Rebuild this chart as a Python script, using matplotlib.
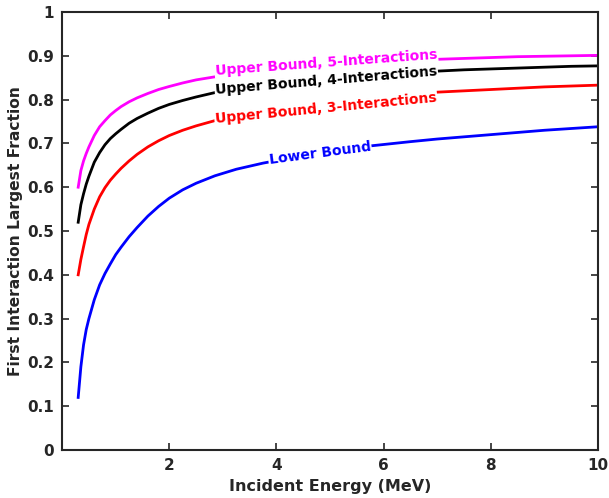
import matplotlib
matplotlib.use("Agg")
import matplotlib.pyplot as plt

energy = [0.3, 0.35, 0.4, 0.45, 0.5, 0.6, 0.7, 0.8, 0.9, 1.0, 1.1, 1.25, 1.4, 1.6, 1.8, 2.0,
          2.25, 2.5, 2.85, 3.25, 3.75, 4.5, 5.5, 6.5, 7.0, 7.5, 8.0, 8.5, 9.0, 9.5, 10.0]
lower = [0.12, 0.19, 0.24, 0.275, 0.30, 0.343, 0.377, 0.403, 0.425, 0.446, 0.463, 0.487,
         0.508, 0.534, 0.556, 0.575, 0.594, 0.609, 0.626, 0.641, 0.655, 0.672, 0.691, 0.704,
         0.710, 0.715, 0.72, 0.725, 0.73, 0.734, 0.738]
upper3 = [0.40, 0.435, 0.464, 0.492, 0.515, 0.550, 0.578, 0.599, 0.616, 0.630, 0.643, 0.660,
          0.675, 0.692, 0.706, 0.718, 0.730, 0.740, 0.752, 0.762, 0.772, 0.785, 0.800, 0.812,
          0.817, 0.820, 0.823, 0.826, 0.829, 0.831, 0.833]
upper4 = [0.52, 0.56, 0.585, 0.607, 0.625, 0.657, 0.679, 0.697, 0.711, 0.722, 0.732, 0.746,
          0.757, 0.769, 0.780, 0.789, 0.798, 0.806, 0.816, 0.825, 0.834, 0.845, 0.855, 0.862,
          0.865, 0.868, 0.870, 0.872, 0.874, 0.876, 0.877]
upper5 = [0.60, 0.638, 0.66, 0.677, 0.692, 0.718, 0.738, 0.752, 0.765, 0.775, 0.784, 0.795,
          0.804, 0.814, 0.823, 0.830, 0.838, 0.845, 0.852, 0.858, 0.864, 0.872, 0.882, 0.889,
          0.892, 0.894, 0.896, 0.898, 0.899, 0.900, 0.901]

series = [
    (upper5, "#ff00ff", "Upper Bound, 5-Interactions", (4.93, 0.884), 4.2),
    (upper4, "#000000", "Upper Bound, 4-Interactions", (4.93, 0.842), 4.8),
    (upper3, "#ff0000", "Upper Bound, 3-Interactions", (4.92, 0.781), 5.5),
    (lower, "#0000ff", "Lower Bound", (4.81, 0.678), 7.5),
]

dark = "#262626"
fig = plt.figure(figsize=(6.09, 4.98), dpi=100)
ax = fig.add_axes([0.102, 0.0964, 0.880, 0.8795])

for ys, col, lab, pos, rot in series:
    ax.plot(energy, ys, color=col, lw=2.0, zorder=2)
for ys, col, lab, pos, rot in series:
    ax.text(pos[0], pos[1], lab, color=col, fontsize=10, fontweight="bold",
            rotation=rot, rotation_mode="anchor", ha="center", va="center",
            bbox=dict(facecolor="white", edgecolor="none", pad=0.6), zorder=3)

ax.set_xlim(0, 10)
ax.set_ylim(0, 1)
ax.set_xticks([2, 4, 6, 8, 10])
ax.set_yticks([0, 0.1, 0.2, 0.3, 0.4, 0.5, 0.6, 0.7, 0.8, 0.9, 1])
ax.set_yticklabels(["0", "0.1", "0.2", "0.3", "0.4", "0.5", "0.6", "0.7", "0.8", "0.9", "1"])
ax.tick_params(direction="in", length=5, width=1.2, top=True, right=True,
               colors=dark, labelsize=11, pad=6)
for lbl in ax.get_xticklabels() + ax.get_yticklabels():
    lbl.set_fontweight("bold")
for sp in ax.spines.values():
    sp.set_linewidth(1.5)
    sp.set_color(dark)
ax.set_xlabel("Incident Energy (MeV)", fontsize=11.5, fontweight="bold", color=dark, labelpad=4)
ax.set_ylabel("First Interaction Largest Fraction", fontsize=11.2, fontweight="bold", color=dark, labelpad=3)

fig.savefig("out.png", dpi=100)
